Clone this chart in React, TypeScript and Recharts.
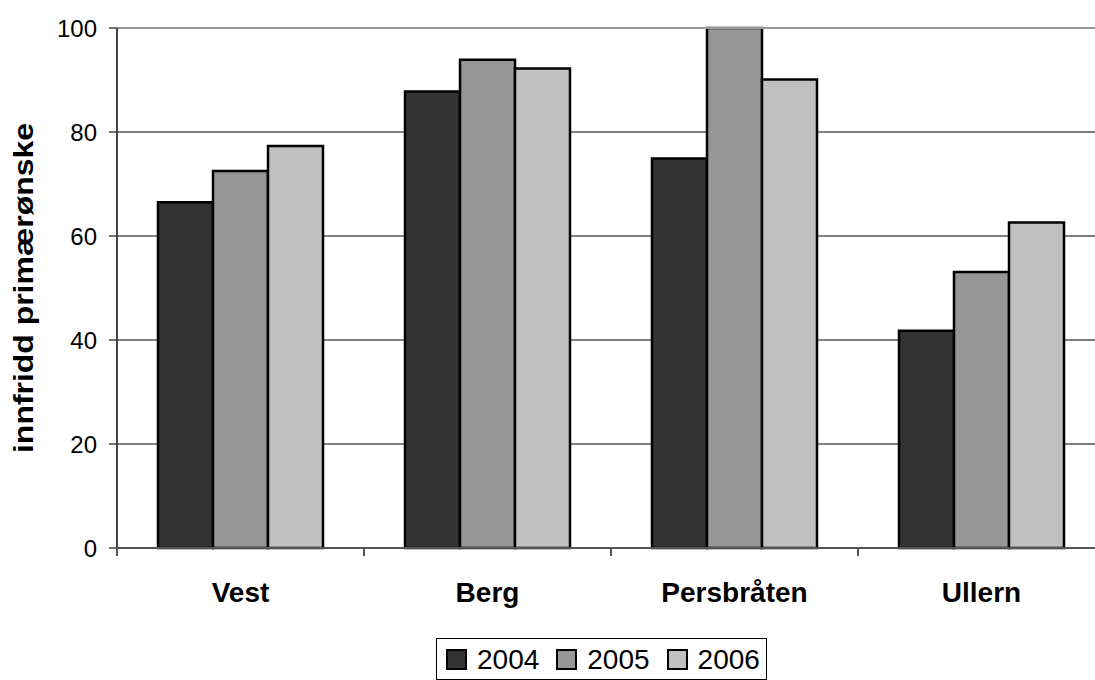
import React from 'react';
import { BarChart, Bar, XAxis, YAxis, CartesianGrid, Legend, ReferenceLine } from 'recharts';

const categories = ['Vest', 'Berg', 'Persbråten', 'Ullern'];
const years = ['2004', '2005', '2006'];
const values2004 = [66.5, 87.8, 74.9, 41.8];
const values2005 = [72.5, 93.9, 100, 53.1];
const values2006 = [77.3, 92.2, 90.1, 62.6];
const yTicks = [0, 20, 40, 60, 80, 100];
const yLabel = 'innfridd primærønske';

const colors = ['#333333', '#969696', '#c0c0c0'];
const font = '"Liberation Sans", Arial, sans-serif';

const CHART_W = 1120;
const CHART_H = 680;
const PLOT_LEFT = 117;
const MARGIN_RIGHT = 15;
const BAND = (CHART_W - PLOT_LEFT - MARGIN_RIGHT) / categories.length;

const data = categories.map((name, i) => ({
  name,
  y2004: values2004[i],
  y2005: values2005[i],
  y2006: values2006[i],
}));

const XTick = (props: any) => {
  const { x, y, payload } = props;
  const axisY = y - 34;
  return (
    <g>
      <line x1={x - BAND / 2} x2={x - BAND / 2} y1={axisY} y2={axisY + 8} stroke="#555" strokeWidth={2} />
      <text x={x} y={y} dy={20} textAnchor="middle" fontWeight="bold" fontSize={28} fill="#000" fontFamily={font}>
        {payload.value}
      </text>
    </g>
  );
};

const YTitle = (props: any) => {
  const vb = props.viewBox || { y: 28, height: 520 };
  const cx = 33;
  const cy = vb.y + vb.height / 2;
  return (
    <text
      x={cx}
      y={cy}
      transform={`rotate(-90, ${cx}, ${cy})`}
      textAnchor="middle"
      fontWeight="bold"
      fontSize={28}
      fontFamily={font}
      fill="#000"
      textLength={330}
      lengthAdjust="spacingAndGlyphs"
    >
      {yLabel}
    </text>
  );
};

const LegendBox = () => (
  <div
    style={{
      display: 'inline-flex',
      alignItems: 'center',
      border: '1.5px solid #000',
      padding: '4px 6px 3px 9px',
      background: '#fff',
      fontFamily: font,
      fontSize: 28,
      lineHeight: '33px',
    }}
  >
    {years.map((yr, i) => (
      <span key={yr} style={{ display: 'inline-flex', alignItems: 'center', marginRight: i < years.length - 1 ? 17 : 0 }}>
        <span
          style={{
            display: 'inline-block',
            width: 17,
            height: 17,
            background: colors[i],
            border: '2px solid #000',
            marginRight: 10,
          }}
        />
        {yr}
      </span>
    ))}
  </div>
);

export default function App() {
  return (
    <div style={{ position: 'fixed', left: 0, top: 0, width: 1095, height: 680, overflow: 'hidden', background: '#fff' }}>
      <BarChart
        width={CHART_W}
        height={CHART_H}
        data={data}
        margin={{ top: 28, right: MARGIN_RIGHT, left: 0, bottom: 0 }}
        barGap={0}
        barCategoryGap="16.6%"
      >
        <CartesianGrid vertical={false} stroke="#000" strokeWidth={1} />
        <XAxis
          dataKey="name"
          height={90}
          tickLine={false}
          tickSize={8}
          tickMargin={26}
          tick={<XTick />}
          axisLine={{ stroke: '#555', strokeWidth: 2 }}
          interval={0}
        />
        <YAxis
          width={PLOT_LEFT}
          domain={[0, 100]}
          ticks={yTicks}
          interval={0}
          tickSize={8}
          tickMargin={12}
          tick={{ fontSize: 24, fill: '#000', fontFamily: font }}
          tickLine={{ stroke: '#444', strokeWidth: 1.5 }}
          axisLine={{ stroke: '#444', strokeWidth: 2 }}
          label={<YTitle />}
        />
        <ReferenceLine y={100} stroke="#999" strokeWidth={2} />
        <Legend
          verticalAlign="bottom"
          content={<LegendBox />}
          wrapperStyle={{ left: 436, bottom: 0, width: 'auto' }}
        />
        <Bar dataKey="y2004" name={years[0]} fill={colors[0]} stroke="#000" strokeWidth={2.5} isAnimationActive={false} />
        <Bar dataKey="y2005" name={years[1]} fill={colors[1]} stroke="#000" strokeWidth={2.5} isAnimationActive={false} />
        <Bar dataKey="y2006" name={years[2]} fill={colors[2]} stroke="#000" strokeWidth={2.5} isAnimationActive={false} />
      </BarChart>
    </div>
  );
}
